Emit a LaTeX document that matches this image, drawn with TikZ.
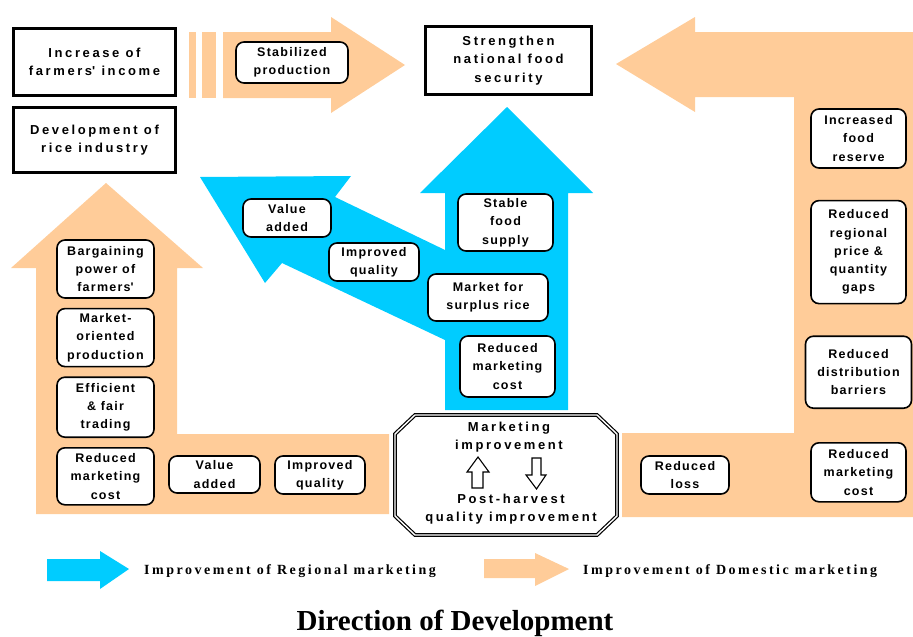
\documentclass[tikz,border=0pt]{standalone}
\usepackage{fontspec}
\setmainfont{Liberation Sans}
\newfontfamily\boxfont[LetterSpace=10]{Liberation Sans}
\newfontfamily\headfont[LetterSpace=20]{Liberation Sans}
\newfontfamily\legfont[LetterSpace=18]{Liberation Serif}
\newfontfamily\titlefont{Liberation Serif}
\usepackage{tikz}
\usetikzlibrary{positioning}
\definecolor{peach}{HTML}{FFCC99}
\definecolor{cyanblue}{HTML}{00CCFF}

\begin{document}
\begin{tikzpicture}[
    x=1pt, y=-1pt,
    node distance=9pt and 15pt,
    mybox/.style={draw,rounded corners=8pt,line width=1.6pt,fill=white,align=center,inner sep=0pt,
      font=\boxfont\bfseries\fontsize{12.5}{18.3}\selectfont},
    mytitle/.style={draw,line width=3pt,fill=white,align=center,inner sep=0pt,
      font=\headfont\bfseries\fontsize{13}{18.5}\selectfont},
    mytext/.style={align=center,inner sep=0pt,font=\headfont\bfseries\fontsize{13}{18.5}\selectfont},
    myleg/.style={anchor=base west,inner sep=0pt,font=\legfont\bfseries\fontsize{14}{16}\selectfont}
    ]
    \useasboundingbox (0,0) rectangle (913,637);

    % domestic (orange) arrows
    \fill[peach] (189,32) rectangle (196,98);
    \fill[peach] (202,32) rectangle (216,98);
    \fill[peach] (223,32) -- (331,32) -- (331,17) -- (405,65) -- (331,113) -- (331,98) -- (223,98) -- cycle;
    \fill[peach] (913,32) -- (695,32) -- (695,17) -- (616,64) -- (695,112) -- (695,97) -- (794,97)
      -- (794,433) -- (622,433) -- (622,517) -- (913,517) -- cycle;
    \fill[peach] (36,514) -- (36,268) -- (11,268) -- (106,183) -- (203,268) -- (177,268)
      -- (177,434) -- (389,434) -- (389,514) -- cycle;
    % regional (blue) arrows
    \fill[cyanblue] (445,410) -- (445,193) -- (420,193) -- (507,107) -- (593,193) -- (568,193) -- (568,410) -- cycle;
    \fill[cyanblue] (445,340) -- (282,263) -- (265,283) -- (200,177) -- (351,176) -- (335,197) -- (445,250) -- cycle;

    \node[mytitle, minimum width=162, minimum height=67] (inc) at (94.5,62) {Increase of\\farmers\textquotesingle{} income};
    \node[mytitle, minimum width=162, minimum height=65] (dev) at (94.5,140) {Development of\\rice industry};
    \node[mytitle, minimum width=166, minimum height=68] (sec) at (508.5,60.5) {Strengthen\\national food\\security};

    \node[mybox, minimum width=112, minimum height=41] (stab) at (292,62.5) {Stabilized\\production};

    \node[mybox, minimum width=88, minimum height=38] (va1) at (287,218) {Value\\added};
    \node[mybox, minimum width=90, minimum height=38] (iq1) at (374,262) {Improved\\quality};
    \node[mybox, minimum width=95, minimum height=57] (sfs) at (505.5,222.5) {Stable\\food\\supply};
    \node[mybox, minimum width=120, minimum height=47] (msr) at (488,297.5) {Market for\\surplus rice};
    \node[mybox, minimum width=95, minimum height=61] (rmc1) at (507.5,366.5) {Reduced\\marketing\\cost};

    \node[mybox, minimum width=97, minimum height=58] (bpf) at (105.5,269) {Bargaining\\power of\\farmers\textquotesingle};
    \node[mybox, minimum width=97, minimum height=58, below=of bpf] (mop) {Market-\\oriented\\production};
    \node[mybox, minimum width=97, minimum height=60, below=of mop] (eft) {Efficient\\\& fair\\trading};
    \node[mybox, minimum width=97, minimum height=57, below=of eft] (rmc2) {Reduced\\marketing\\cost};
    \node[mybox, minimum width=91, minimum height=37] (va2) at (214.5,474.5) {Value\\added};
    \node[mybox, minimum width=90, minimum height=38] (iq2) at (320,475) {Improved\\quality};

    \node[mybox, minimum width=88, minimum height=38] (rl) at (685,475) {Reduced\\loss};
    \node[mybox, minimum width=95, minimum height=59] (ifr) at (858.5,138.5) {Increased\\food\\reserve};
    \node[mybox, minimum width=95, minimum height=103, below=31pt of ifr] (rrp) {Reduced\\regional\\price \&\\quantity\\gaps};
    \node[mybox, minimum width=106, minimum height=72, below=31pt of rrp] (rdb) {Reduced\\distribution\\barriers};
    \node[mybox, minimum width=95, minimum height=59, below=33pt of rdb] (rmc3) {Reduced\\marketing\\cost};

    % marketing / post-harvest octagon
    \draw[double, double distance=1.4pt, line width=1.2pt, fill=white] (395,434) -- (415,415) -- (597,415)
      -- (617,434) -- (617,516) -- (597,535) -- (415,535) -- (395,516) -- cycle;
    \node[mytext] (mk) at (509,437) {Marketing\\improvement};
    \node[mytext] (ph) at (511,509) {Post-harvest\\quality improvement};
    \draw[line width=1.1pt, fill=white] (472,488) -- (472,472) -- (467,472) -- (478,457) -- (489,472)
      -- (483,472) -- (483,488) -- cycle;
    \draw[line width=1.1pt, fill=white] (532,458) -- (541,458) -- (541,475) -- (546,475) -- (536.5,489)
      -- (526,475) -- (532,475) -- cycle;

    % legend
    \fill[cyanblue] (47,559) -- (100,559) -- (100,551) -- (129,569) -- (100,589) -- (100,581) -- (47,581) -- cycle;
    \node[myleg] (lg1) at (144,574) {Improvement of Regional marketing};
    \fill[peach] (484,559) -- (535,559) -- (535,553) -- (569,569) -- (535,586) -- (535,578) -- (484,578) -- cycle;
    \node[myleg] (lg2) at (583,574) {Improvement of Domestic marketing};

    \node[anchor=base, inner sep=0pt, font=\titlefont\bfseries\fontsize{29}{32}\selectfont] (ttl) at (455,630) {Direction of Development};

  \end{tikzpicture}
\end{document}
